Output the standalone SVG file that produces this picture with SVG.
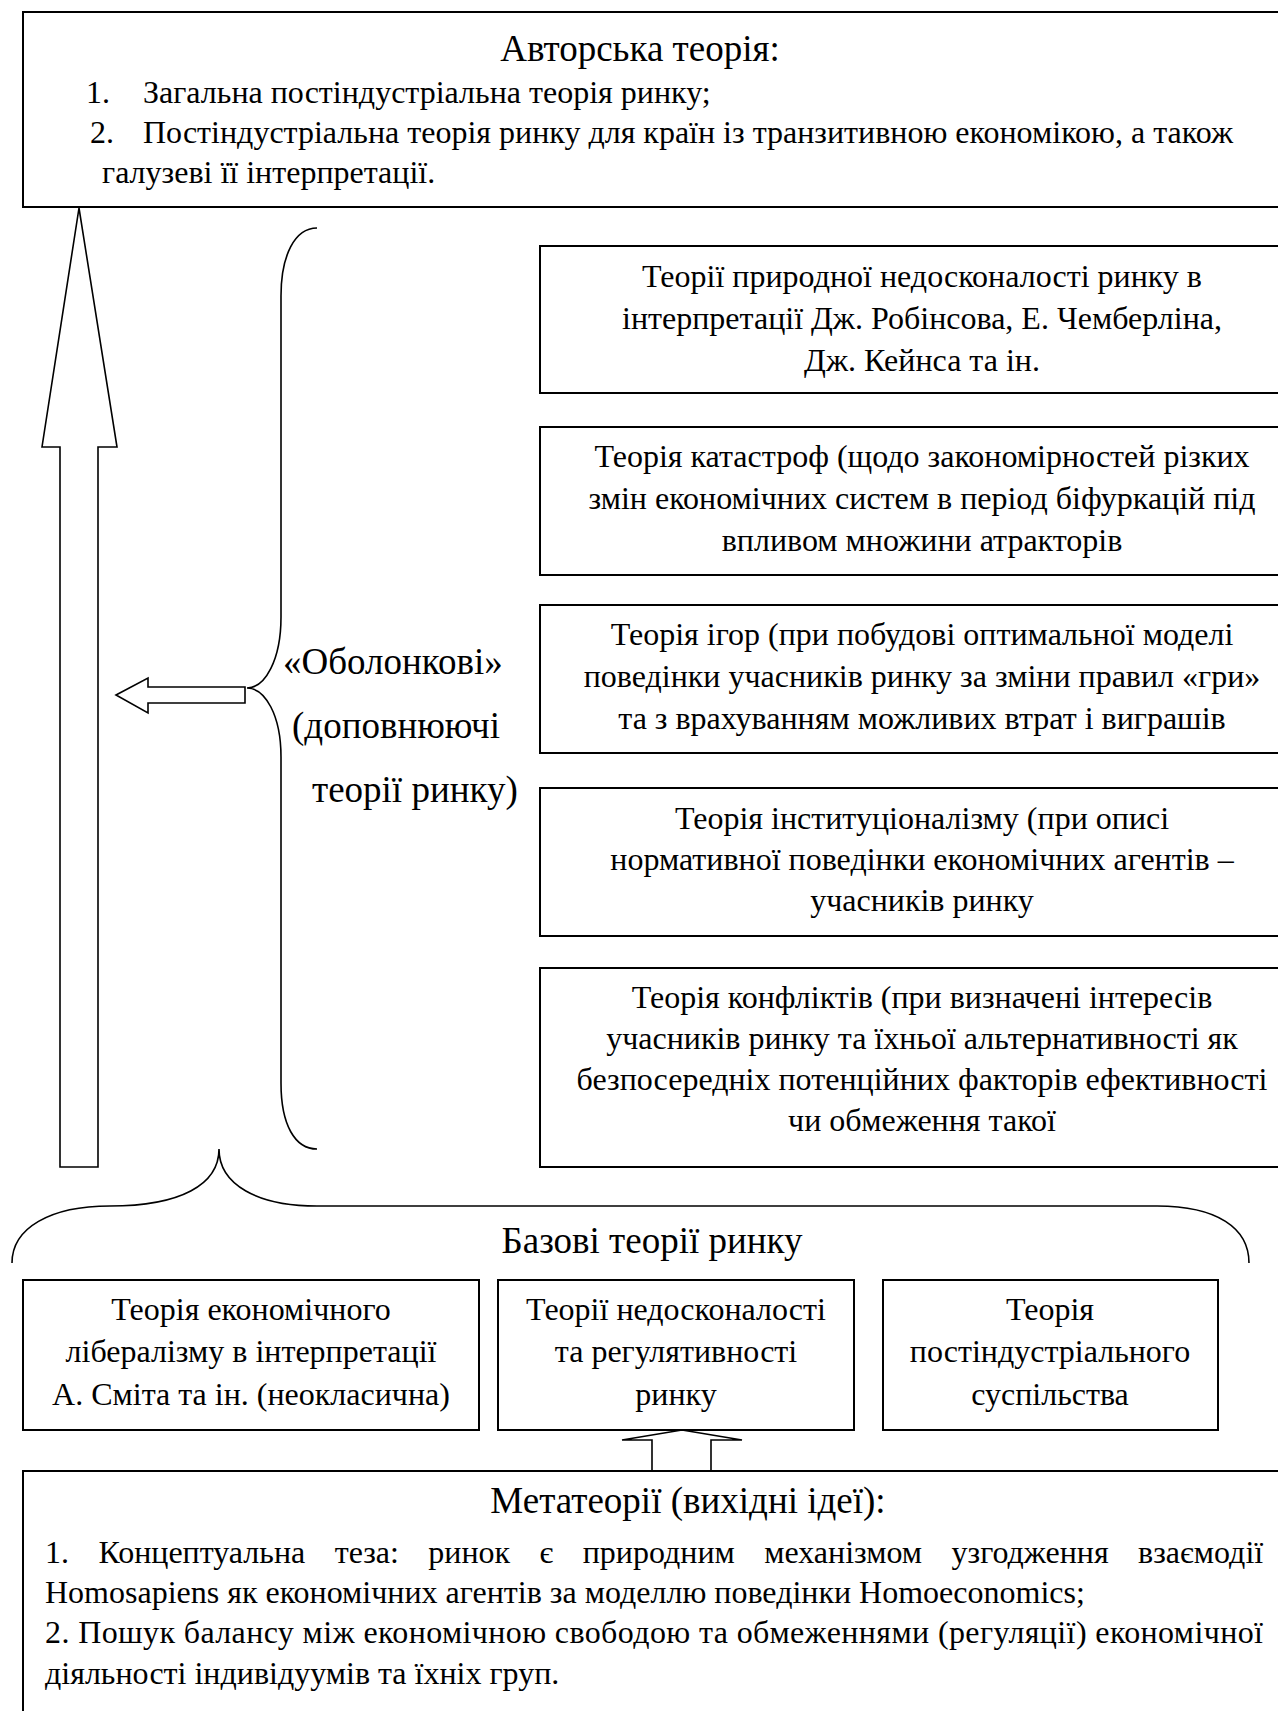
<svg xmlns="http://www.w3.org/2000/svg" width="1278" height="1711" viewBox="0 0 1278 1711">
<style>
  .box{fill:#fff;stroke:#000;stroke-width:2}
  .ln{fill:none;stroke:#000;stroke-width:1.6}
  .arr{fill:#fff;stroke:#000;stroke-width:1.6;stroke-linejoin:miter}
  text{font-family:"Liberation Serif","Times New Roman",serif;fill:#000}
  .t{font-size:32px}
  .h{font-size:37px}
  .c{text-anchor:middle}
</style>
<rect width="1278" height="1711" fill="#fff"/>

<g id="author">
  <rect class="box" x="23" y="12" width="1300" height="195"/>
  <text class="h c" x="640" y="61">Авторська теорія:</text>
  <text class="t" x="86" y="103">1.</text>
  <text class="t" x="143" y="103">Загальна постіндустріальна теорія ринку;</text>
  <text class="t" x="90" y="143">2.</text>
  <text class="t" x="143" y="143">Постіндустріальна теорія ринку для країн із транзитивною економікою, а також</text>
  <text class="t" x="102" y="183">галузеві її інтерпретації.</text>
</g>

<g id="connectors">
  <polygon id="bigArrow" class="arr" points="79,208 117,447 98,447 98,1167 60,1167 60,447 42,447"/>
  <path id="shellBrace" class="ln" d="M317,228 C295,228 281,255 281,296 L281,617 C281,660 265,688 247,688 C265,688 281,715 281,757 L281,1083 C281,1125 295,1149 317,1149"/>
  <polygon id="leftArrow" class="arr" points="116,695 148,678 148,687 245,687 245,703 148,703 148,713"/>
  <path id="baseBrace" class="ln" d="M12,1263 C12,1228 50,1206 110,1206 C180,1206 219,1185 219,1149 C219,1185 258,1206 317,1206 L1157,1206 C1217,1206 1249,1228 1249,1263"/>
  <polygon id="upArrow" class="arr" points="682,1430 742,1440 711,1440 711,1471 652,1471 652,1440 622,1440"/>
</g>

<g id="shellLabel">
  <text class="h" x="283" y="674">«Оболонкові»</text>
  <text class="h" x="292" y="738">(доповнюючі</text>
  <text class="h" x="312" y="802">теорії ринку)</text>
</g>

<g id="box-imperfection">
  <rect class="box" x="540" y="246" width="800" height="147"/>
  <text class="t c" x="922" y="287">Теорії природної недосконалості ринку в</text>
  <text class="t c" x="922" y="329">інтерпретації Дж. Робінсова, Е. Чемберліна,</text>
  <text class="t c" x="922" y="371">Дж. Кейнса та ін.</text>
</g>
<g id="box-catastrophe">
  <rect class="box" x="540" y="427" width="800" height="148"/>
  <text class="t c" x="922" y="467">Теорія катастроф (щодо закономірностей різких</text>
  <text class="t c" x="922" y="509">змін економічних систем в період біфуркацій під</text>
  <text class="t c" x="922" y="551">впливом множини атракторів</text>
</g>
<g id="box-games">
  <rect class="box" x="540" y="605" width="800" height="148"/>
  <text class="t c" x="922" y="645">Теорія ігор (при побудові оптимальної моделі</text>
  <text class="t c" x="922" y="687">поведінки учасників ринку за зміни правил «гри»</text>
  <text class="t c" x="922" y="729">та з врахуванням можливих втрат і виграшів</text>
</g>
<g id="box-institutional">
  <rect class="box" x="540" y="788" width="800" height="148"/>
  <text class="t c" x="922" y="829">Теорія інституціоналізму (при описі</text>
  <text class="t c" x="922" y="870">нормативної поведінки економічних агентів –</text>
  <text class="t c" x="922" y="911">учасників ринку</text>
</g>
<g id="box-conflicts">
  <rect class="box" x="540" y="968" width="800" height="199"/>
  <text class="t c" x="922" y="1008">Теорія конфліктів (при визначені інтересів</text>
  <text class="t c" x="922" y="1049">учасників ринку та їхньої альтернативності як</text>
  <text class="t c" x="922" y="1090">безпосередніх потенційних факторів ефективності</text>
  <text class="t c" x="922" y="1131">чи обмеження такої</text>
</g>

<g id="baseLabel">
  <text class="h c" x="652" y="1253">Базові теорії ринку</text>
</g>

<g id="box-liberalism">
  <rect class="box" x="23" y="1280" width="456" height="150"/>
  <text class="t c" x="251" y="1320">Теорія економічного</text>
  <text class="t c" x="251" y="1362">лібералізму в інтерпретації</text>
  <text class="t c" x="251" y="1405">А. Сміта та ін. (неокласична)</text>
</g>
<g id="box-regulation">
  <rect class="box" x="498" y="1280" width="356" height="150"/>
  <text class="t c" x="676" y="1320">Теорії недосконалості</text>
  <text class="t c" x="676" y="1362">та регулятивності</text>
  <text class="t c" x="676" y="1405">ринку</text>
</g>
<g id="box-postindustrial">
  <rect class="box" x="883" y="1280" width="335" height="150"/>
  <text class="t c" x="1050" y="1320">Теорія</text>
  <text class="t c" x="1050" y="1362">постіндустріального</text>
  <text class="t c" x="1050" y="1405">суспільства</text>
</g>

<g id="meta">
  <rect class="box" x="23" y="1471" width="1300" height="300"/>
  <text class="h c" x="688" y="1513">Метатеорії (вихідні ідеї):</text>
  <text class="t" x="45" y="1563" word-spacing="21.4">1. Концептуальна теза: ринок є природним механізмом узгодження взаємодії</text>
  <text class="t" x="45" y="1603">Homosapiens як економічних агентів за моделлю поведінки Homoeconomics;</text>
  <text class="t" x="45" y="1643" textLength="1218" lengthAdjust="spacing">2. Пошук балансу між економічною свободою та обмеженнями (регуляції) економічної</text>
  <text class="t" x="45" y="1684">діяльності індивідуумів та їхніх груп.</text>
</g>
</svg>
